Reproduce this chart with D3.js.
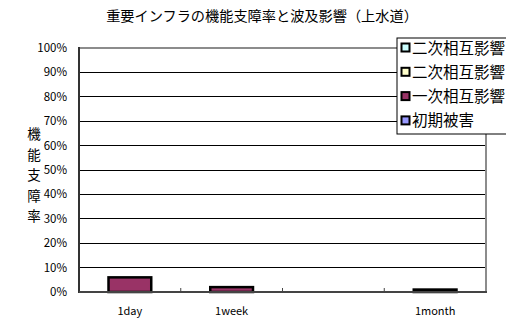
<!DOCTYPE html>
<html><head><meta charset="utf-8">
<script src="https://cdn.jsdelivr.net/npm/d3@7"></script>
<style>
html,body{margin:0;padding:0;background:#fff;overflow:hidden;}
text{font-family:"Noto Sans CJK JP","Noto Sans",sans-serif;fill:#000;}
</style></head><body>
<svg id="c" width="506" height="323"></svg>
<script>
const title = "重要インフラの機能支障率と波及影響（上水道）";
const yTitle = "機能支障率";
const categories = ["1day", "1week", "", "1month"];
const seriesNames = ["初期被害", "一次相互影響", "二次相互影響", "二次相互影響"];
const initialDamage = [0, 0, 0, 0];
const primaryImpact = [6, 2, 0, 1];
const secondaryImpactA = [0, 0, 0, 0];
const secondaryImpactB = [0, 0, 0, 0];
const yTicks = [0, 10, 20, 30, 40, 50, 60, 70, 80, 90, 100];
const colors = ["#9999FF", "#993366", "#FFFFCC", "#CCFFFF"];

const svg = d3.select("#c");
const L = 79, R = 486, T = 48, B = 292;
const x = d3.scaleBand().domain(d3.range(categories.length)).range([L, R]).paddingInner(0.58).paddingOuter(0.29);
const y = d3.scaleLinear().domain([0, 100]).range([B, T]);

// title
svg.append("text").attr("x", 262).attr("y", 21).attr("text-anchor", "middle")
  .style("font-size", "14.2px").text(title);

// gridlines
svg.append("g").selectAll("line").data(yTicks.filter(d => d > 0 && d < 100)).join("line")
  .attr("x1", L).attr("x2", R).attr("y1", d => y(d)).attr("y2", d => y(d))
  .attr("stroke", "#000").attr("stroke-width", 1).attr("shape-rendering", "crispEdges");

// plot border top/right (gray)
svg.append("line").attr("x1", L).attr("x2", R + 1).attr("y1", T).attr("y2", T).attr("stroke", "#8c8c8c").attr("stroke-width", 2);
svg.append("line").attr("x1", R).attr("x2", R).attr("y1", T).attr("y2", B).attr("stroke", "#8c8c8c").attr("stroke-width", 2);

// y axis labels
svg.append("g").selectAll("text").data(yTicks).join("text")
  .attr("x", 67).attr("y", d => y(d) + 4).attr("text-anchor", "end")
  .style("font-size", "11.5px").text(d => d + "%");

// y title vertical
svg.append("g").selectAll("text").data(yTitle.split("")).join("text")
  .attr("x", 34).attr("y", (d, i) => 139 + i * 20.6).attr("text-anchor", "middle")
  .style("font-size", "13.5px").text(d => d);

// stacked bars
const rows = categories.map((c, i) => ({i, s0: initialDamage[i], s1: primaryImpact[i], s2: secondaryImpactA[i], s3: secondaryImpactB[i]}));
const stack = d3.stack().keys(["s0", "s1", "s2", "s3"])(rows);
stack.forEach((layer, k) => {
  svg.append("g").selectAll("rect").data(layer.filter(d => d[1] - d[0] > 0)).join("rect")
    .attr("x", d => x(d.data.i)).attr("width", x.bandwidth())
    .attr("y", d => y(d[1])).attr("height", d => y(d[0]) - y(d[1]))
    .attr("fill", colors[k]).attr("stroke", "#000").attr("stroke-width", 2.5);
});

// axes lines (left & bottom)
svg.append("line").attr("x1", L).attr("x2", L).attr("y1", T - 1).attr("y2", B + 1).attr("stroke", "#333").attr("stroke-width", 2);
svg.append("line").attr("x1", L).attr("x2", R + 1).attr("y1", B).attr("y2", B).attr("stroke", "#444").attr("stroke-width", 2);

// ticks between categories
const step = (R - L) / categories.length;
svg.append("g").selectAll("line").data(d3.range(1, categories.length)).join("line")
  .attr("x1", d => L + d * step).attr("x2", d => L + d * step).attr("y1", B - 4).attr("y2", B)
  .attr("stroke", "#444").attr("stroke-width", 1);

// x labels
svg.append("g").selectAll("text").data(categories).join("text")
  .attr("x", (d, i) => x(i) + x.bandwidth() / 2).attr("y", 315).attr("text-anchor", "middle")
  .style("font-size", "11px").text(d => d);

// legend
const lg = svg.append("g");
lg.append("rect").attr("x", 397).attr("y", 38).attr("width", 130).attr("height", 96)
  .attr("fill", "#fff").attr("stroke", "#000").attr("stroke-width", 1);
const legendItems = [
  {name: seriesNames[3], color: colors[3]},
  {name: seriesNames[2], color: colors[2]},
  {name: seriesNames[1], color: colors[1]},
  {name: seriesNames[0], color: colors[0]}
];
const li = lg.selectAll("g").data(legendItems).join("g")
  .attr("transform", (d, i) => `translate(0,${48 + i * 24.3})`);
li.append("rect").attr("x", 401.5).attr("y", -4.5).attr("width", 8).attr("height", 8)
  .attr("fill", d => d.color).attr("stroke", "#000").attr("stroke-width", 2);
li.append("text").attr("x", 412).attr("y", 5.5).style("font-size", "15.5px").text(d => d.name);
</script>
</body></html>
